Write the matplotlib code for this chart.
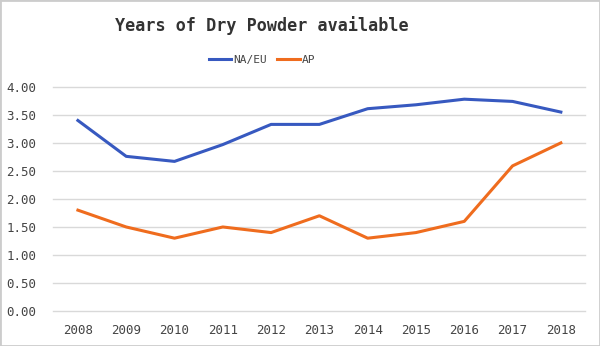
import matplotlib.pyplot as plt
from matplotlib.patches import Rectangle

years = ["2008", "2009", "2010", "2011", "2012", "2013", "2014", "2015", "2016", "2017", "2018"]
na_eu = [3.40, 2.76, 2.67, 2.97, 3.33, 3.33, 3.61, 3.68, 3.78, 3.74, 3.55]
ap = [1.80, 1.50, 1.30, 1.50, 1.40, 1.70, 1.30, 1.40, 1.60, 2.59, 3.00]
y_ticks = [0, 0.5, 1.0, 1.5, 2.0, 2.5, 3.0, 3.5, 4.0]

plt.rcParams['font.family'] = ['DejaVu Sans Mono']

fig = plt.figure(figsize=(6, 3.46), dpi=100)
ax = fig.add_axes([0.088, 0.101, 0.887, 0.648])

x = list(range(len(years)))
ax.plot(x, na_eu, color='#3759c0', linewidth=2.2, label='NA/EU')
ax.plot(x, ap, color='#ef6c1e', linewidth=2.2, label='AP')

ax.set_xlim(-0.52, 10.5)
ax.set_ylim(0, 4)
ax.set_xticks(x)
ax.set_xticklabels(years)
ax.set_yticks(y_ticks)
ax.set_yticklabels([f"{v:.2f}" for v in y_ticks])
ax.tick_params(length=0, labelsize=9, colors='#444444')
ax.tick_params(axis='y', pad=12)
ax.tick_params(axis='x', pad=9)
for s in ax.spines.values():
    s.set_visible(False)
ax.grid(axis='y', color='#d9d9d9', linewidth=1)
for line in ax.get_ygridlines():
    line.set_clip_on(False)
ax.set_axisbelow(True)

fig.text(0.437, 0.925, "Years of Dry Powder available", ha='center', va='center',
         fontsize=12.1, fontweight='bold', color='#333333')
fig.legend(loc='center', bbox_to_anchor=(0.437, 0.827), ncol=2, frameon=False,
           fontsize=8, handlelength=2.0, handletextpad=0.2, columnspacing=0.9,
           labelcolor='#444444')

fig.patches.append(Rectangle((0, 0), 1, 1, transform=fig.transFigure, fill=False,
                             edgecolor='#cccccc', linewidth=2))

plt.savefig("out.png", dpi=100)
